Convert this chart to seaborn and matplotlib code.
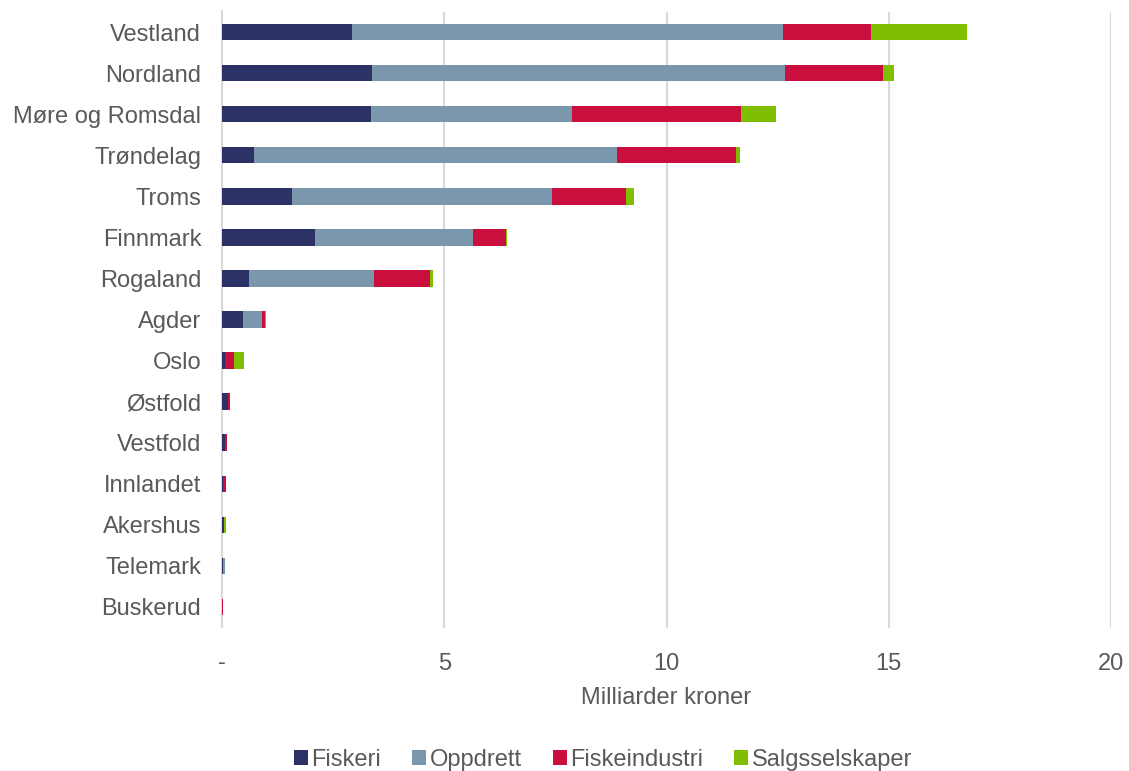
import matplotlib
matplotlib.use("Agg")
import matplotlib.pyplot as plt
import seaborn as sns
import numpy as np
import pandas as pd
from matplotlib.patches import Patch

regions = ["Vestland", "Nordland", "Møre og Romsdal", "Trøndelag", "Troms", "Finnmark",
           "Rogaland", "Agder", "Oslo", "Østfold", "Vestfold", "Innlandet", "Akershus",
           "Telemark", "Buskerud"]
fiskeri = [2.93, 3.38, 3.36, 0.72, 1.58, 2.09, 0.61, 0.47, 0.07, 0.13, 0.07, 0.02, 0.04, 0.03, 0.00]
oppdrett = [9.68, 9.29, 4.52, 8.17, 5.85, 3.56, 2.81, 0.44, 0.00, 0.01, 0.00, 0.00, 0.00, 0.04, 0.00]
fiskeindustri = [2.00, 2.19, 3.79, 2.68, 1.67, 0.75, 1.26, 0.05, 0.20, 0.03, 0.05, 0.08, 0.01, 0.00, 0.02]
salgsselskaper = [2.16, 0.26, 0.79, 0.08, 0.16, 0.02, 0.07, 0.04, 0.22, 0.02, 0.00, 0.00, 0.04, 0.00, 0.01]
series_names = ["Fiskeri", "Oppdrett", "Fiskeindustri", "Salgsselskaper"]
colors = ["#2c3266", "#7b97ad", "#c80f3e", "#7fbe00"]
xticks = [0, 5, 10, 15, 20]
xticklabels = ["-", "5", "10", "15", "20"]

sns.set_theme(style="white")
plt.rcParams['font.family'] = ['Liberation Sans', 'DejaVu Sans']
text_color = "#595959"

fig = plt.figure(figsize=(11.29, 7.71), dpi=100)
ax = fig.add_axes([222/1129, 1-627.5/771, (1111-222)/1129, (627.5-11.5)/771])

series = [fiskeri, oppdrett, fiskeindustri, salgsselskaper]
cum = np.cumsum(np.array(series), axis=0)
df = pd.DataFrame({"region": regions})
for i in range(len(series) - 1, -1, -1):
    df["val"] = cum[i]
    sns.barplot(data=df, x="val", y="region", orient="h", color=colors[i],
                width=0.4, saturation=1, ax=ax, zorder=3, linewidth=0, edgecolor="none")

ax.set_xlim(0, 20)
ax.set_ylim(14.5, -0.5)
ax.set_xticks(xticks)
ax.set_xticklabels(xticklabels)
ax.grid(axis="x", color="#d9d9d9", linewidth=1.5, zorder=0)
ax.set_axisbelow(True)
for s in ["top", "right", "bottom"]:
    ax.spines[s].set_visible(False)
ax.spines["left"].set_color("#d9d9d9")
ax.spines["left"].set_linewidth(1.5)
ax.tick_params(axis="both", length=0, labelsize=17, labelcolor=text_color)
ax.tick_params(axis="x", pad=18)
ax.tick_params(axis="y", pad=15)
ax.set_ylabel("")
ax.set_xlabel("Milliarder kroner", fontsize=17, color=text_color, labelpad=9)

handles = [Patch(facecolor=c, edgecolor="none") for c in colors]
fig.legend(handles, series_names, loc="center", bbox_to_anchor=(603/1129, 1-760/771),
           ncol=4, frameon=False, fontsize=17, handlelength=0.6, handleheight=0.6,
           handletextpad=0.15, columnspacing=1.3, labelcolor=text_color)

fig.savefig("out.png", dpi=100)
